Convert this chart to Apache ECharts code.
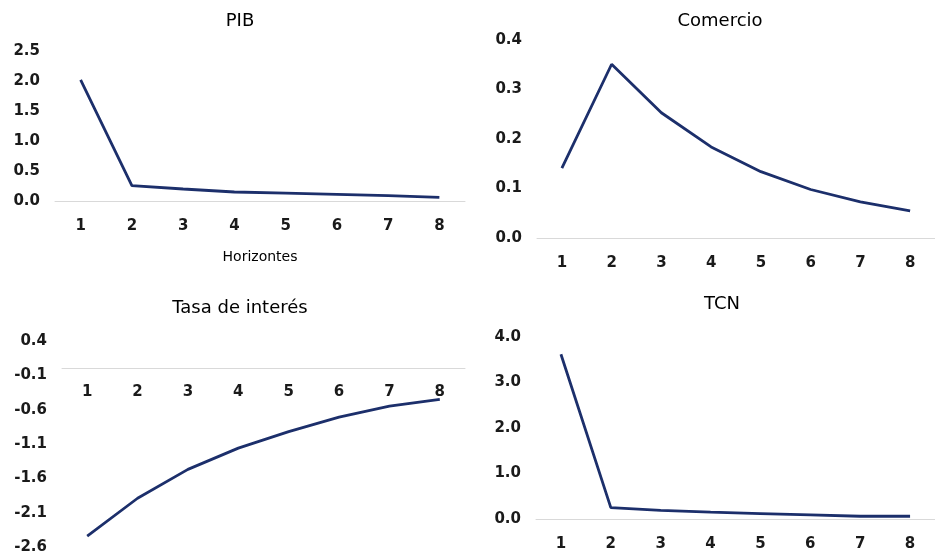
<!DOCTYPE html>
<html>
<head>
<meta charset="utf-8">
<script src="https://cdn.jsdelivr.net/npm/echarts@6/dist/echarts.min.js"></script>
<style>
html,body{margin:0;padding:0;background:#fff;}
#c{width:935px;height:556px;}
</style>
</head>
<body>
<div id="c"></div>
<script>
const horizons = ['1','2','3','4','5','6','7','8'];
const pib = [2.02, 0.255, 0.2, 0.15, 0.13, 0.11, 0.09, 0.06];
const comercio = [0.141, 0.351, 0.253, 0.184, 0.134, 0.098, 0.073, 0.055];
const tasa = [-2.44, -1.89, -1.47, -1.16, -0.92, -0.71, -0.55, -0.45];
const tcn = [3.62, 0.25, 0.19, 0.15, 0.12, 0.09, 0.06, 0.06];
const titles = ['PIB', 'Comercio', 'Tasa de interés', 'TCN'];
const xAxisName = 'Horizontes';

const FONT = '"DejaVu Sans", sans-serif';
const LINE = '#1c2f6b';

const grids = [
  {left: 55, top: 51, width: 410, height: 150},
  {left: 537, top: 40, width: 406, height: 198},
  {left: 62, top: 341, width: 403, height: 206},
  {left: 536, top: 337, width: 410, height: 182}
];
const yCfg = [
  {min: 0, max: 2.5, interval: 0.5},
  {min: 0, max: 0.4, interval: 0.1},
  {min: -2.6, max: 0.4, interval: 0.5},
  {min: 0, max: 4, interval: 1}
];
const seriesData = [pib, comercio, tasa, tcn];
const titlePos = [[240, 12], [720, 12], [240, 299], [722, 295]];
const xLabelMargin = [18, 18, 16, 18];

// x axis sits at value 0 (category axis crosses at zero)
function zeroOffset(i) {
  const c = yCfg[i], g = grids[i];
  if (c.min >= 0) return 0;
  return -((0 - c.min) / (c.max - c.min)) * g.height;
}

const chart = echarts.init(document.getElementById('c'));
chart.setOption({
  backgroundColor: '#fff',
  animation: false,
  title: titles.map((t, i) => ({
    text: t, left: titlePos[i][0], top: titlePos[i][1], textAlign: 'center',
    padding: 0,
    textStyle: {fontFamily: FONT, fontSize: 18, fontWeight: 'normal', color: '#000'}
  })),
  grid: grids.map(g => Object.assign({containLabel: false}, g)),
  xAxis: grids.map((g, i) => ({
    type: 'category', gridIndex: i, data: horizons, boundaryGap: true,
    offset: zeroOffset(i),
    name: i === 0 ? xAxisName : '', nameLocation: 'middle', nameGap: 49,
    nameTextStyle: {fontFamily: FONT, fontSize: 14, color: '#000'},
    axisLine: {show: true, onZero: false, lineStyle: {color: '#d9d9d9', width: 1}},
    axisTick: {show: false},
    axisLabel: {fontFamily: FONT, fontSize: 15, fontWeight: 'bold', color: '#1a1a1a', margin: xLabelMargin[i]},
    splitLine: {show: false}
  })),
  yAxis: grids.map((g, i) => ({
    type: 'value', gridIndex: i, min: yCfg[i].min, max: yCfg[i].max, interval: yCfg[i].interval,
    axisLine: {show: false}, axisTick: {show: false}, splitLine: {show: false},
    axisLabel: {fontFamily: FONT, fontSize: 15, fontWeight: 'bold', color: '#1a1a1a', margin: 15,
      formatter: v => (Math.round(v * 10) / 10).toFixed(1)}
  })),
  series: seriesData.map((d, i) => ({
    type: 'line', xAxisIndex: i, yAxisIndex: i, data: d,
    symbol: 'none', smooth: false,
    lineStyle: {color: LINE, width: 2.8}
  }))
});
</script>
</body>
</html>
